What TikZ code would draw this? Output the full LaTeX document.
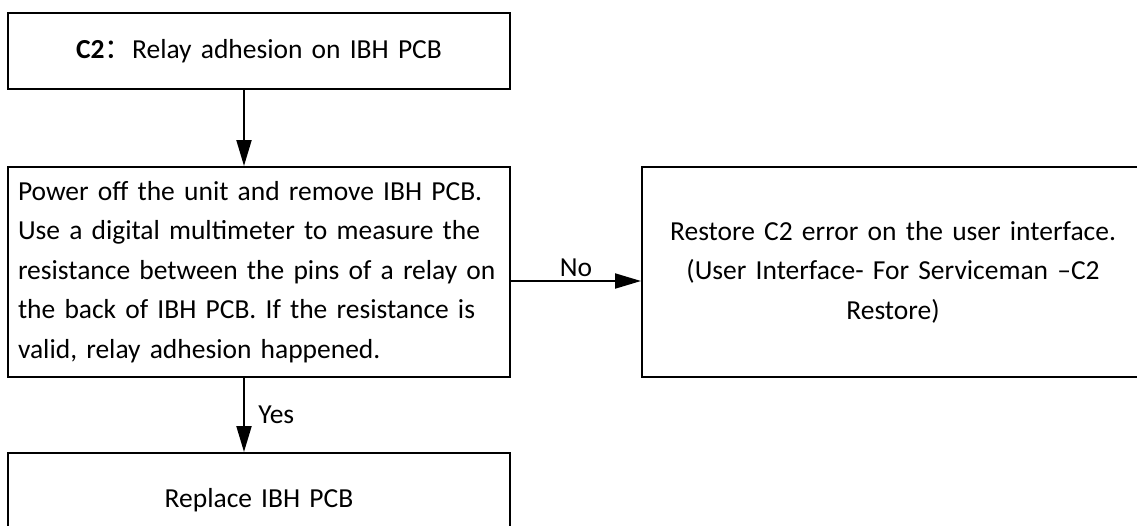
\documentclass[tikz,border=0pt]{standalone}
\usepackage{fontspec}
\setmainfont{Carlito}
\newfontfamily\cjk{Noto Sans CJK SC}
\usetikzlibrary{arrows.meta}
\begin{document}
\begin{tikzpicture}[x=1pt,y=-1pt,
    box/.style={draw,line width=2pt,minimum width=502pt,inner sep=6pt,
        text width=490pt,font={\fontsize{27.5}{39.5}\selectfont}},
    link/.style={line width=2pt,-{Triangle[length=26pt,width=15pt]}},
    tag/.style={font={\fontsize{27.5}{32}\selectfont}}]
            \def\bx{259}
            \def\rx{893}
            \useasboundingbox (0,0) rectangle (1137,525);
            \node[box,align=center,minimum height=76pt] (fault) at (\bx,51)
                {\textbf{C2}{\cjk ：}Relay adhesion on IBH PCB};
            \node[box,align=left,minimum height=210pt] (check) at (\bx,272)
                {\hspace{4pt}Power off the unit and remove IBH PCB.\\
                 \hspace{4pt}Use a digital multimeter to measure the\\
                 \hspace{4pt}resistance between the pins of a relay on\\
                 \hspace{4pt}the back of IBH PCB. If the resistance is\\
                 \hspace{4pt}valid, relay adhesion happened.};
            \node[box,align=center,minimum height=210pt] (restore) at (\rx,272)
                {Restore C2 error on the user interface.\\
                 (User Interface- For Serviceman --C2\\
                 Restore)};
            \node[box,align=center,minimum height=94pt] (replace) at (\bx,500)
                {Replace IBH PCB};
            \draw[link] ([xshift=-15pt]fault.south)--([xshift=-15pt]check.north);
            \draw[link]
                ([yshift=-9pt]check.east)--([yshift=-9pt]restore.west)
                node[midway,above,tag] {No};
            \draw[link]
                ([xshift=-15pt]check.south)--([xshift=-15pt]replace.north)
                node[midway,right=10pt,tag] {Yes};
            \end{tikzpicture}
\end{document}
